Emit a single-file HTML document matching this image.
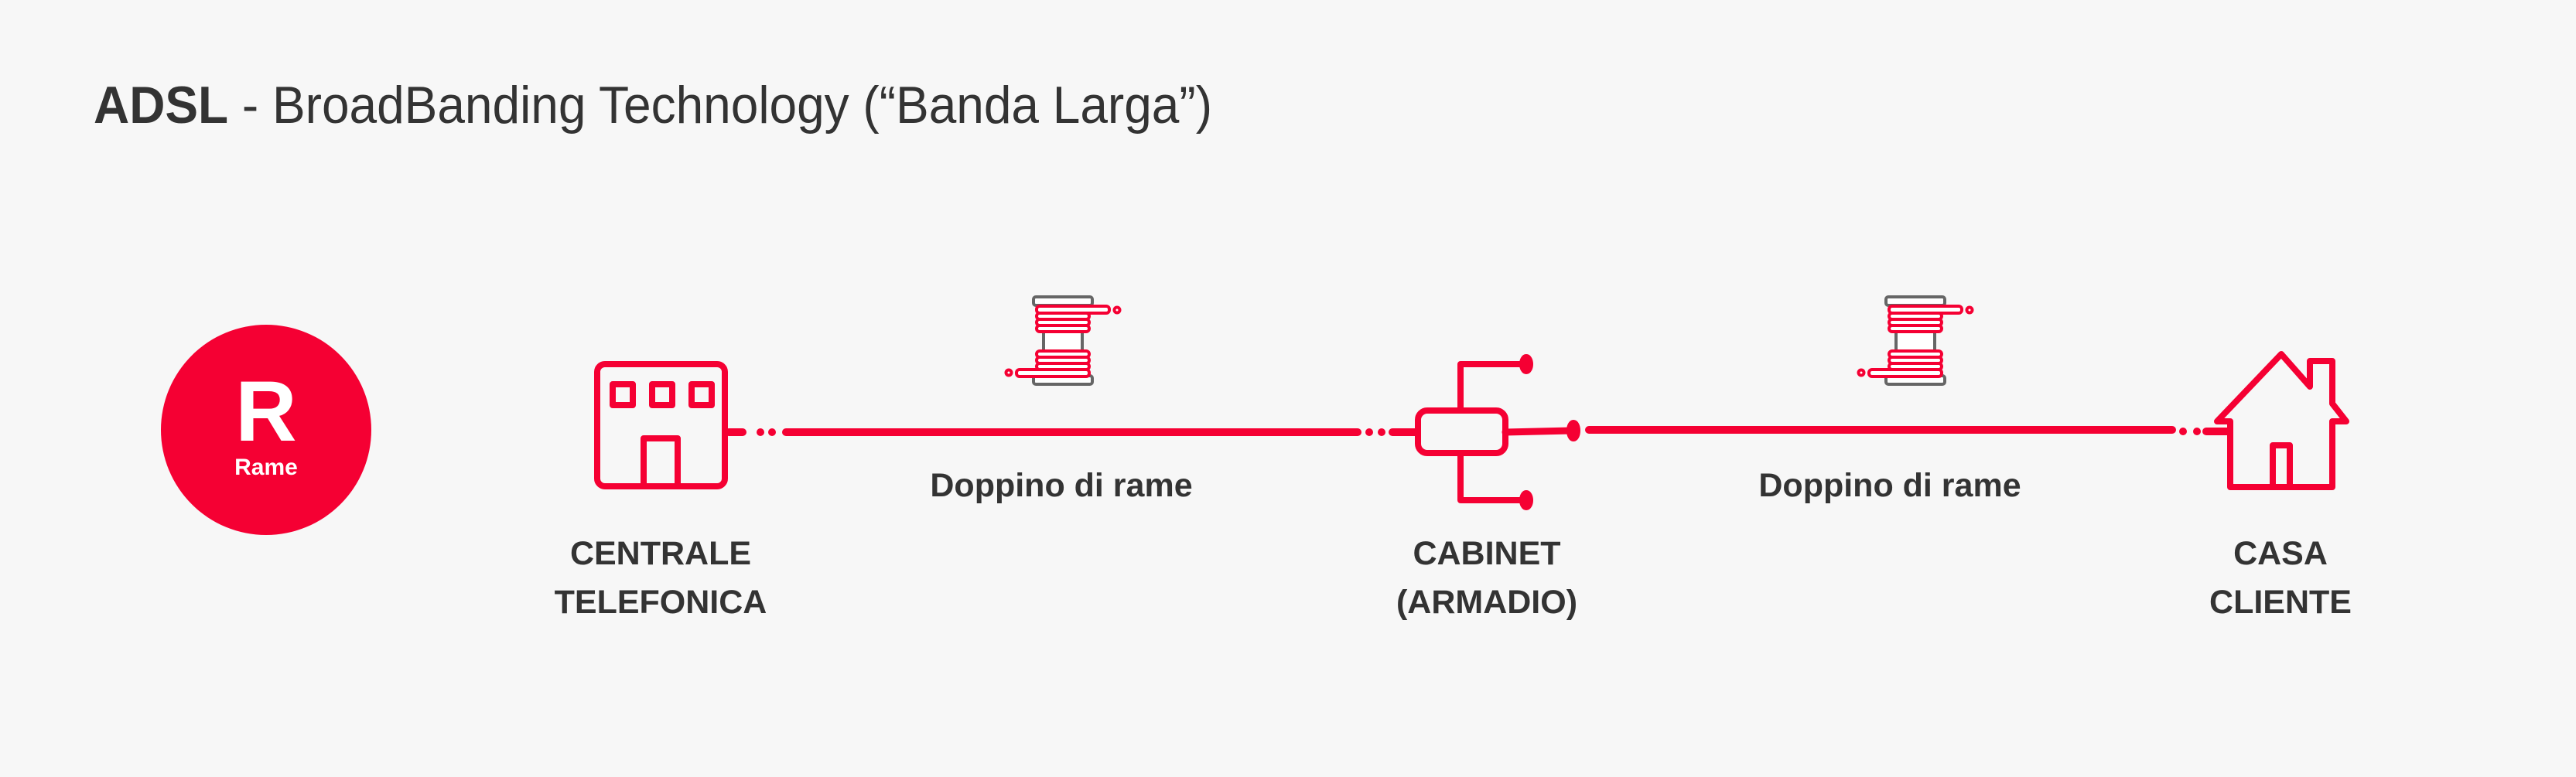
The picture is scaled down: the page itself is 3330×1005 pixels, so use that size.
<!DOCTYPE html>
<html><head><meta charset="utf-8"><style>
html,body{margin:0;padding:0;background:#f7f7f7;}
svg{display:block;}
text{font-family:"Liberation Sans",sans-serif;fill:#333;}
</style></head><body>
<svg width="3330" height="1005" viewBox="0 0 3330 1005" xmlns="http://www.w3.org/2000/svg">
<rect width="3330" height="1005" fill="#f7f7f7"/>
<text x="121" y="159" font-size="68" textLength="1446" lengthAdjust="spacingAndGlyphs"><tspan font-weight="bold">ADSL</tspan> - BroadBanding Technology (“Banda Larga”)</text>

<circle cx="344" cy="556" r="136" fill="#f50033"/>
<text x="344" y="570" font-size="110" font-weight="bold" text-anchor="middle" style="fill:#fff">R</text>
<text x="344" y="614" font-size="30" font-weight="bold" text-anchor="middle" style="fill:#fff">Rame</text>

<g fill="none" stroke="#f50033" stroke-width="8" stroke-linecap="round" stroke-linejoin="round">
<!-- building -->
<rect x="772" y="471" width="165" height="158" rx="10"/>
<rect x="792" y="497" width="26" height="27"/>
<rect x="843" y="497" width="26" height="27"/>
<rect x="894" y="497" width="26" height="27"/>
<path d="M832 629 V567 H876 V629"/>
<!-- line 1 -->
<path d="M942 559 H960" stroke-width="10"/>
<circle cx="983" cy="559" r="5" fill="#f50033" stroke="none"/>
<circle cx="998" cy="559" r="5" fill="#f50033" stroke="none"/>
<path d="M1016 559 H1755" stroke-width="10"/>
<circle cx="1770" cy="559" r="5" fill="#f50033" stroke="none"/>
<circle cx="1786" cy="559" r="5" fill="#f50033" stroke="none"/>
<path d="M1800 559 H1831" stroke-width="10"/>
<!-- cabinet -->
<rect x="1833" y="531" width="113" height="55" rx="12"/>
<path d="M1888 531 V471 H1971 M1888 586 V647 H1971"/>
<ellipse cx="1973" cy="471" rx="5" ry="9" fill="#f50033"/>
<ellipse cx="1973" cy="647" rx="5" ry="9" fill="#f50033"/>
<path d="M1946 559 L2031 557" stroke-width="9"/>
<ellipse cx="2034" cy="557" rx="5" ry="10" fill="#f50033"/>
<path d="M2054 556 H2808" stroke-width="10"/>
<circle cx="2822" cy="558" r="5" fill="#f50033" stroke="none"/>
<circle cx="2840" cy="558" r="5" fill="#f50033" stroke="none"/>
<path d="M2852 558 H2880" stroke-width="10"/>
<!-- house -->
<path d="M2883 545 H2866 L2949 458 L2986 500 V467 H3015 V522 L3033 545 H3015 V630 H2883 Z"/>
<path d="M2938 628 V576 H2960 V628"/>
</g>

<!-- spools -->
<g id="sp1">
<g stroke-width="4" stroke-linejoin="round">
<rect x="1336" y="384" width="76" height="11" rx="3" fill="#fff" stroke="#666"/>
<rect x="1349" y="428" width="50" height="26" fill="#fff" stroke="#666"/>
<rect x="1336" y="486" width="76" height="11" rx="3" fill="#fff" stroke="#666"/>
<g fill="#fff" stroke="#f50033">
<rect x="1340" y="396" width="94" height="9" rx="4"/>
<rect x="1340" y="405" width="68" height="8" rx="4"/>
<rect x="1340" y="413" width="68" height="8" rx="4"/>
<rect x="1340" y="421" width="68" height="8" rx="4"/>
<rect x="1340" y="454" width="68" height="8" rx="4"/>
<rect x="1340" y="462" width="68" height="8" rx="4"/>
<rect x="1340" y="470" width="68" height="8" rx="4"/>
<rect x="1314" y="478" width="94" height="9" rx="4"/>
<circle cx="1444" cy="401" r="3.5"/>
<circle cx="1304" cy="482" r="3.5"/>
</g></g></g>
<use href="#sp1" x="1102"/>

<g font-weight="bold" font-size="43" text-anchor="middle">
<text x="1372" y="642">Doppino di rame</text>
<text x="2443" y="642">Doppino di rame</text>
<text x="854" y="730">CENTRALE</text>
<text x="854" y="793">TELEFONICA</text>
<text x="1922" y="730">CABINET</text>
<text x="1922" y="793">(ARMADIO)</text>
<text x="2948" y="730">CASA</text>
<text x="2948" y="793">CLIENTE</text>
</g>
</svg>
</body></html>
